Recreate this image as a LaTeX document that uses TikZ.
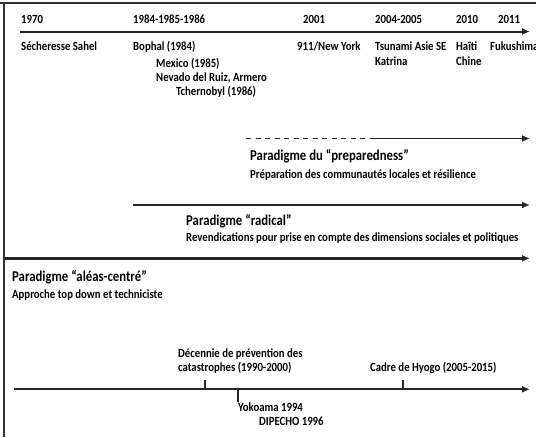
\documentclass[tikz,border=0pt]{standalone}
\usepackage{fontspec}
\setmainfont{Carlito}[FakeStretch=0.86]
\newfontfamily\titlefont{Carlito}[FakeStretch=0.85]
\usepackage{xcolor}
\usetikzlibrary{arrows.meta}

\tikzset{
  lbl/.style={anchor=base west, inner sep=0pt, text=black,
    font=\bfseries\fontsize{12.5}{14}\selectfont},
  big/.style={lbl, font=\titlefont\bfseries\fontsize{15}{17}\selectfont},
  axis/.style={line width=2pt, draw=black!85, -{Latex[length=8pt,width=7pt]}},
  tick/.style={line width=1.6pt, draw=black!85},
}

\begin{document}
\begin{tikzpicture}[x=1pt,y=-1pt]
\useasboundingbox (0,0) rectangle (536,437);
% frame
\draw[line width=2pt, black!80] (0,3) -- (536,3);
\draw[line width=2pt, black!80] (4,3) -- (4,437);

% top timeline
\coordinate (top0) at (20,31.5);
\coordinate (top1) at (530,31.5);
\draw[axis] (top0) -- (top1);
\node[lbl] (y1970) at (21,23.5) {1970};
\node[lbl] (y1984) at (133,23.5) {1984-1985-1986};
\node[lbl] (y2001) at (303,23.5) {2001};
\node[lbl] (y2004) at (375,23.5) {2004-2005};
\node[lbl] (y2010) at (456,23.5) {2010};
\node[lbl] (y2011) at (498,23.5) {2011};
\node[lbl] (sahel) at (21,50) {Sécheresse Sahel};
\node[lbl] (bophal) at (133,50) {Bophal (1984)};
\node[lbl] (mexico) at (156,67) {Mexico (1985)};
\node[lbl] (nevado) at (156,81) {Nevado del Ruiz, Armero};
\node[lbl] (tcherno) at (176,95) {Tchernobyl (1986)};
\node[lbl] (ny) at (297,50) {911/New York};
\node[lbl] (tsunami) at (375,50) {Tsunami Asie SE};
\node[lbl] (katrina) at (375,65) {Katrina};
\node[lbl] (haiti) at (456,50) {Haïti};
\node[lbl] (chine) at (456,65) {Chine};
\node[lbl] (fuku) at (490,50) {Fukushima};

% paradigme du preparedness
\coordinate (prep0) at (246,138.5);
\coordinate (prep1) at (371,138.5);
\coordinate (prep2) at (530,138.5);
\draw[line width=1.6pt, black!85, dash pattern=on 5pt off 4.5pt] (prep0) -- (prep1);
\draw[axis, line width=1.6pt] (prep1) -- (prep2);
\node[big] (prep) at (250,160) {Paradigme du “preparedness”};
\node[lbl] (prepsub) at (250,178.5) {Préparation des communautés locales et résilience};

% paradigme radical
\coordinate (rad0) at (133,205);
\coordinate (rad1) at (530,205);
\draw[axis] (rad0) -- (rad1);
\node[big] (rad) at (186,225.5) {Paradigme “radical”};
\node[lbl] (radsub) at (186,241) {Revendications pour prise en compte des dimensions sociales et politiques};

% paradigme aleas-centre
\coordinate (ale0) at (4,258.3);
\coordinate (ale1) at (530,258.3);
\draw[axis, line width=3.2pt] (ale0) -- (ale1);
\node[big] (ale) at (12,281.5) {Paradigme “aléas-centré”};
\node[lbl] (alesub) at (12,298.3) {Approche top down et techniciste};

% bottom timeline
\coordinate (bot0) at (14,389.3);
\coordinate (bot1) at (530,389.3);
\draw[axis] (bot0) -- (bot1);
\coordinate (decen) at (205,389.3);
\coordinate (yoko) at (238,389.3);
\coordinate (hyogo) at (403,389.3);
\draw[tick] (decen) -- ++(0,-9.5);
\draw[tick] (yoko) -- ++(0,12.5);
\draw[tick] (hyogo) -- ++(0,-9.5);
\node[lbl] (decen1) at (178,357.5) {Décennie de prévention des};
\node[lbl] (decen2) at (178,371.7) {catastrophes (1990-2000)};
\node[lbl] (cadre) at (370,371.7) {Cadre de Hyogo (2005-2015)};
\node[lbl] (yokol) at (238,411.7) {Yokoama 1994};
\node[lbl] (dipecho) at (259,425) {DIPECHO 1996};
\end{tikzpicture}
\end{document}
